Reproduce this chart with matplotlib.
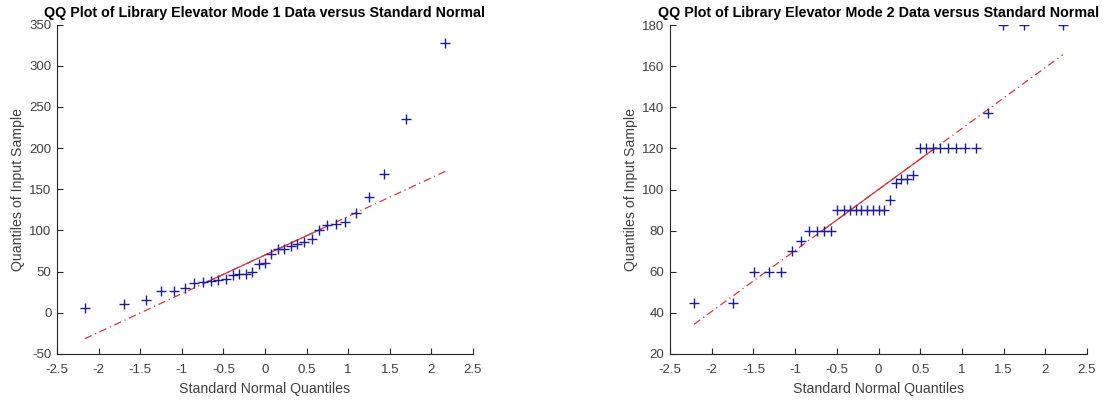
import numpy as np
import matplotlib
matplotlib.use("Agg")
import matplotlib.pyplot as plt
from matplotlib.ticker import FuncFormatter
from statistics import NormalDist

# Sorted sample values for each elevator mode
mode1_values = [6, 11, 15, 27, 27, 30, 36, 37, 39, 40, 41, 46, 47, 47, 49, 59, 61,
                72, 77, 78, 81, 84, 86, 90, 100, 107, 108, 110, 121, 141, 168, 235, 327]
mode2_values = [45, 45, 60, 60, 60, 70, 75, 80, 80, 80, 80,
                90, 90, 90, 90, 90, 90, 90, 90, 90, 95, 103, 105, 105, 107,
                120, 120, 120, 120, 120, 120, 120, 120, 137, 180, 180, 180]

titles = ["QQ Plot of Library Elevator Mode 1 Data versus Standard Normal",
          "QQ Plot of Library Elevator Mode 2 Data versus Standard Normal"]
x_ticks = [-2.5, -2, -1.5, -1, -0.5, 0, 0.5, 1, 1.5, 2, 2.5]
y_ticks_1 = [-50, 0, 50, 100, 150, 200, 250, 300, 350]
y_ticks_2 = [20, 40, 60, 80, 100, 120, 140, 160, 180]

plt.rcParams["font.family"] = ["Liberation Sans", "DejaVu Sans"]
plt.rcParams["axes.unicode_minus"] = False

AX_GRAY = "#262626"
TICK_GRAY = "#404040"
MARKER_BLUE = "#1c1c94"
LINE_RED = "#d8343a"

std_normal = NormalDist()


def qq_panel(ax, values, title, yticks):
    data = np.sort(np.asarray(values, dtype=float))
    n = len(data)
    # theoretical quantiles at plotting positions (i - 0.5) / n
    theo = np.array([std_normal.inv_cdf((i - 0.5) / n) for i in range(1, n + 1)])

    # reference line through the first and third quartiles
    q1, q3 = np.percentile(data, [25, 75], method="hazen")
    z1, z3 = std_normal.inv_cdf(0.25), std_normal.inv_cdf(0.75)
    slope = (q3 - q1) / (z3 - z1)
    icpt = q1 - slope * z1

    xs_ext = np.array([theo[0], theo[-1]])
    ax.plot(xs_ext, icpt + slope * xs_ext, linestyle=(0, (6, 3, 1, 3)),
            color=LINE_RED, lw=0.9, zorder=2)
    xs_mid = np.array([z1, z3])
    ax.plot(xs_mid, icpt + slope * xs_mid, linestyle="-",
            color=LINE_RED, lw=0.9, zorder=2)

    ax.plot(theo, data, linestyle="none", marker="+", markersize=6.8,
            markeredgewidth=1.0, color=MARKER_BLUE, zorder=3)

    ax.set_xlim(x_ticks[0], x_ticks[-1])
    ax.set_ylim(yticks[0], yticks[-1])
    ax.set_xticks(x_ticks)
    ax.set_yticks(yticks)
    ax.xaxis.set_major_formatter(FuncFormatter(lambda v, p: f"{v:g}"))
    ax.yaxis.set_major_formatter(FuncFormatter(lambda v, p: f"{v:g}"))

    for side in ("top", "right"):
        ax.spines[side].set_visible(False)
    for side in ("left", "bottom"):
        ax.spines[side].set_color(AX_GRAY)
        ax.spines[side].set_linewidth(0.8)
    ax.tick_params(direction="in", length=4, width=0.8, color=AX_GRAY,
                   labelcolor=TICK_GRAY, labelsize=9.5)
    ax.tick_params(axis="x", pad=7.5)
    ax.tick_params(axis="y", pad=4)

    ax.set_title(title, fontsize=10.3, fontweight="bold", color="black", pad=5.5)
    ax.set_xlabel("Standard Normal Quantiles", fontsize=10.2, color=TICK_GRAY, labelpad=4)
    ax.set_ylabel("Quantiles of Input Sample", fontsize=10.2, color=TICK_GRAY, labelpad=3)


W, H = 1106, 400
fig = plt.figure(figsize=(W / 100, H / 100), dpi=100)
ax1 = fig.add_axes([57 / W, 1 - 354 / H, (473 - 57) / W, (354 - 24.5) / H])
ax2 = fig.add_axes([670 / W, 1 - 354 / H, (1087 - 670) / W, (354 - 25) / H])

qq_panel(ax1, mode1_values, titles[0], y_ticks_1)
qq_panel(ax2, mode2_values, titles[1], y_ticks_2)

fig.savefig("out.png", dpi=100, facecolor="white")
